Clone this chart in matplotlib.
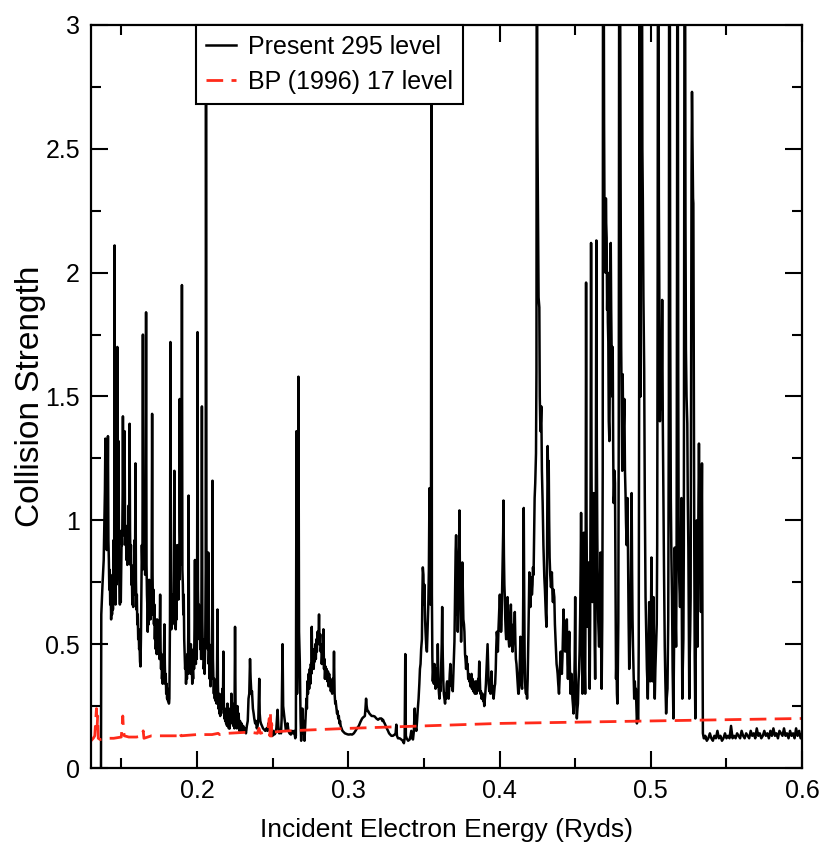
import matplotlib
matplotlib.use("Agg")
import matplotlib.pyplot as plt
from matplotlib.ticker import MultipleLocator

plt.rcParams['font.family'] = ['Liberation Sans', 'DejaVu Sans']

# --- Present 295 level (segment by segment) ---
energy_a = [0.1366, 0.1368, 0.1376, 0.1384, 0.1388, 0.1392, 0.1395, 0.1398, 0.1401, 0.1404,
            0.1408, 0.1412, 0.1415, 0.1418, 0.1421, 0.1424, 0.1427, 0.1430, 0.1433, 0.1436,
            0.1439, 0.1442, 0.1445, 0.1449, 0.1453, 0.1456, 0.1459, 0.1462, 0.1465, 0.1468,
            0.1471, 0.1474, 0.1477, 0.1480, 0.1482, 0.1485, 0.1488, 0.1491, 0.1494, 0.1497,
            0.1500, 0.1503, 0.1506, 0.1509, 0.1511, 0.1514, 0.1517, 0.1520, 0.1522, 0.1525,
            0.1528, 0.1531, 0.1534, 0.1537, 0.1540, 0.1543, 0.1546, 0.1549, 0.1552, 0.1555,
            0.1558, 0.1561, 0.1564, 0.1567, 0.1570, 0.1573, 0.1576, 0.1579, 0.1582, 0.1585,
            0.1588, 0.1591, 0.1594, 0.1597, 0.1600, 0.1603, 0.1606, 0.1609, 0.1612, 0.1615,
            0.1618, 0.1621, 0.1624, 0.1627, 0.1630, 0.1633, 0.1636, 0.1640, 0.1643, 0.1646,
            0.1649, 0.1652, 0.1655, 0.1658, 0.1661, 0.1664, 0.1667, 0.1670, 0.1673, 0.1675,
            0.1678, 0.1681, 0.1684, 0.1687, 0.1690, 0.1693, 0.1696, 0.1699, 0.1701, 0.1704,
            0.1707, 0.1710, 0.1713, 0.1716, 0.1719, 0.1722, 0.1725, 0.1728, 0.1731, 0.1734,
            0.1737, 0.1740, 0.1743, 0.1746, 0.1749, 0.1752, 0.1755, 0.1757, 0.1760, 0.1763,
            0.1766, 0.1769, 0.1772, 0.1774, 0.1777, 0.1780, 0.1783, 0.1785, 0.1788, 0.1791,
            0.1794, 0.1797, 0.1800, 0.1803, 0.1806, 0.1809, 0.1812, 0.1815, 0.1818, 0.1822,
            0.1825, 0.1828, 0.1831, 0.1834, 0.1838, 0.1841, 0.1844, 0.1847, 0.1851, 0.1854,
            0.1857, 0.1860, 0.1863, 0.1866, 0.1869, 0.1872, 0.1875, 0.1878, 0.1881, 0.1884,
            0.1886, 0.1889, 0.1892, 0.1895, 0.1898, 0.1901, 0.1904, 0.1907, 0.1910, 0.1913,
            0.1916, 0.1919, 0.1922, 0.1925, 0.1928, 0.1931, 0.1934, 0.1937, 0.1940, 0.1943,
            0.1945, 0.1948, 0.1951, 0.1954, 0.1957, 0.1960, 0.1963, 0.1966, 0.1969, 0.1972,
            0.1975, 0.1978, 0.1981, 0.1984, 0.1987, 0.1990, 0.1993, 0.1996, 0.1999, 0.2001,
            0.2004, 0.2007, 0.2010, 0.2013, 0.2016, 0.2019, 0.2022, 0.2025, 0.2028, 0.2030,
            0.2033, 0.2036, 0.2039, 0.2042, 0.2045, 0.2048, 0.2051, 0.2055, 0.2058, 0.2060,
            0.2063, 0.2066, 0.2069, 0.2072, 0.2075, 0.2078, 0.2081, 0.2084, 0.2087, 0.2090,
            0.2093, 0.2096, 0.2099, 0.2101, 0.2103, 0.2106, 0.2109, 0.2112, 0.2115, 0.2118,
            0.2121, 0.2124, 0.2127, 0.2130, 0.2133, 0.2136, 0.2139, 0.2142, 0.2145, 0.2148,
            0.2151, 0.2154, 0.2157, 0.2160, 0.2163, 0.2166, 0.2169, 0.2172, 0.2175, 0.2178,
            0.2181, 0.2184, 0.2187, 0.2190, 0.2193, 0.2196, 0.2199, 0.2202, 0.2205, 0.2208,
            0.2211, 0.2214, 0.2217]
strength_a = [0.00, 0.62, 0.74, 0.84, 0.98, 1.12, 1.33, 0.96, 1.06, 0.88,
              1.00, 1.34, 0.92, 0.84, 0.72, 0.80, 0.66, 0.74, 0.60, 0.68,
              0.62, 0.78, 0.64, 0.92, 0.72, 2.11, 0.76, 0.66, 0.88, 0.74,
              1.06, 1.70, 1.02, 0.86, 1.32, 0.82, 0.72, 0.66, 0.74, 0.67,
              0.80, 0.96, 0.90, 1.10, 1.42, 1.02, 0.94, 1.12, 1.36, 0.98,
              0.90, 0.95, 0.84, 0.92, 0.82, 0.98, 0.86, 1.06, 0.90, 1.39,
              0.96, 0.82, 0.90, 0.74, 0.80, 0.66, 0.72, 0.65, 0.82, 0.70,
              0.92, 0.80, 1.23, 0.76, 0.64, 0.70, 0.58, 0.62, 0.52, 0.56,
              0.48, 0.50, 0.43, 0.41, 0.52, 0.72, 0.90, 0.80, 1.75, 0.90,
              1.00, 0.82, 0.96, 0.78, 0.98, 1.84, 0.82, 0.70, 0.64, 0.55,
              0.66, 0.58, 0.76, 0.64, 0.74, 0.60, 0.68, 0.62, 0.80, 1.43,
              0.78, 0.62, 0.72, 0.58, 0.66, 0.52, 0.60, 0.48, 0.56, 0.46,
              0.60, 0.50, 0.58, 0.46, 0.54, 0.44, 0.58, 0.70, 0.48, 0.40,
              0.46, 0.36, 0.40, 0.34, 0.42, 0.36, 0.50, 0.58, 0.42, 0.34,
              0.38, 0.30, 0.34, 0.28, 0.32, 0.27, 0.30, 0.26, 0.28, 0.60,
              1.72, 0.70, 0.56, 0.64, 0.58, 0.70, 0.62, 0.80, 1.20, 0.72,
              0.62, 0.56, 0.66, 0.60, 0.90, 0.72, 0.80, 0.68, 0.90, 0.76,
              1.49, 0.96, 0.82, 0.98, 0.86, 1.95, 0.80, 0.74, 0.62, 0.70,
              0.52, 0.46, 0.40, 0.44, 0.34, 0.40, 0.36, 0.46, 0.38, 0.56,
              1.10, 0.52, 0.40, 0.46, 0.38, 0.50, 0.40, 0.44, 0.34, 0.40,
              0.36, 0.48, 0.40, 0.56, 0.84, 0.48, 0.42, 0.52, 0.44, 0.62,
              1.76, 0.72, 0.58, 0.66, 0.52, 0.62, 0.48, 0.56, 0.44, 0.66,
              1.46, 0.60, 0.46, 0.52, 0.40, 0.44, 0.38, 0.50, 0.80, 3.60,
              0.90, 0.56, 0.70, 0.48, 0.87, 0.42, 0.50, 0.36, 0.42, 0.33,
              0.44, 0.36, 0.50, 0.62, 1.16, 0.44, 0.36, 0.30, 0.36, 0.28,
              0.34, 0.27, 0.32, 0.26, 0.40, 0.64, 0.34, 0.24, 0.30, 0.22,
              0.28, 0.21, 0.26, 0.22, 0.30, 0.24, 0.32, 0.26, 0.47, 0.26,
              0.20, 0.24, 0.19, 0.23, 0.18, 0.22, 0.17, 0.26, 0.18, 0.21,
              0.16, 0.20, 0.16]

energy_b = [0.2220, 0.2224, 0.2228, 0.2232, 0.2236, 0.2240, 0.2244, 0.2248, 0.2252, 0.2256,
            0.2260, 0.2264, 0.2268, 0.2272, 0.2276, 0.2280, 0.2285, 0.2290, 0.2295, 0.2300,
            0.2306, 0.2312, 0.2318, 0.2324, 0.2330, 0.2336, 0.2341, 0.2346, 0.2351, 0.2355,
            0.2360, 0.2364, 0.2370, 0.2375, 0.2379, 0.2385, 0.2390, 0.2396, 0.2401, 0.2406,
            0.2409, 0.2412, 0.2415, 0.2419, 0.2423, 0.2430, 0.2437, 0.2445, 0.2452, 0.2460,
            0.2467, 0.2472, 0.2478, 0.2484, 0.2489, 0.2495, 0.2500, 0.2505, 0.2511, 0.2518,
            0.2525, 0.2533, 0.2538, 0.2544, 0.2550, 0.2556, 0.2560, 0.2566, 0.2570, 0.2577,
            0.2583, 0.2588, 0.2594, 0.2599, 0.2605, 0.2612, 0.2621, 0.2628, 0.2635, 0.2643,
            0.2650, 0.2654, 0.2658, 0.2662, 0.2666, 0.2671, 0.2675, 0.2680, 0.2685, 0.2689,
            0.2693, 0.2697, 0.2702, 0.2707, 0.2711, 0.2715, 0.2719, 0.2724, 0.2727, 0.2730,
            0.2734, 0.2738, 0.2742, 0.2746, 0.2750, 0.2753, 0.2756, 0.2759, 0.2762, 0.2765,
            0.2768, 0.2772, 0.2776, 0.2779, 0.2782, 0.2786, 0.2790, 0.2793, 0.2797, 0.2800,
            0.2804, 0.2807, 0.2811, 0.2815, 0.2818, 0.2822, 0.2825, 0.2829, 0.2833, 0.2836,
            0.2840, 0.2843, 0.2846, 0.2850, 0.2854, 0.2858, 0.2862, 0.2866, 0.2870, 0.2874,
            0.2877, 0.2881, 0.2885, 0.2890, 0.2894, 0.2898, 0.2902, 0.2906, 0.2910, 0.2914,
            0.2917, 0.2922, 0.2926, 0.2930, 0.2934, 0.2938, 0.2942, 0.2946, 0.2950, 0.2956,
            0.2962, 0.2970, 0.2978, 0.2986, 0.2995, 0.3004, 0.3015, 0.3026, 0.3037, 0.3048,
            0.3058, 0.3070, 0.3080, 0.3092, 0.3100, 0.3110, 0.3114, 0.3118, 0.3122, 0.3127,
            0.3132, 0.3140, 0.3148, 0.3155, 0.3165, 0.3175]
strength_b = [0.24, 0.18, 0.30, 0.20, 0.26, 0.17, 0.22, 0.16, 0.57, 0.20,
              0.24, 0.16, 0.25, 0.17, 0.22, 0.15, 0.19, 0.15, 0.18, 0.15,
              0.17, 0.15, 0.16, 0.14, 0.17, 0.19, 0.28, 0.30, 0.44, 0.36,
              0.30, 0.31, 0.24, 0.22, 0.20, 0.18, 0.19, 0.16, 0.17, 0.20,
              0.28, 0.36, 0.22, 0.19, 0.18, 0.17, 0.16, 0.155, 0.15, 0.16,
              0.15, 0.18, 0.17, 0.15, 0.16, 0.14, 0.13, 0.15, 0.135, 0.14,
              0.16, 0.235, 0.17, 0.14, 0.15, 0.14, 0.20, 0.50, 0.25, 0.21,
              0.18, 0.15, 0.16, 0.18, 0.15, 0.14, 0.135, 0.15, 0.14, 0.15,
              0.12, 0.13, 1.36, 0.30, 0.60, 1.58, 0.55, 0.43, 0.20, 0.11,
              0.18, 0.24, 0.14, 0.19, 0.11, 0.16, 0.21, 0.28, 0.24, 0.35,
              0.30, 0.38, 0.32, 0.40, 0.34, 0.42, 0.38, 0.57, 0.42, 0.40,
              0.46, 0.40, 0.48, 0.43, 0.50, 0.44, 0.52, 0.47, 0.55, 0.50,
              0.54, 0.62, 0.50, 0.54, 0.47, 0.50, 0.42, 0.46, 0.42, 0.56,
              0.40, 0.44, 0.36, 0.41, 0.36, 0.40, 0.35, 0.39, 0.33, 0.38,
              0.34, 0.36, 0.31, 0.35, 0.30, 0.36, 0.32, 0.47, 0.30, 0.26,
              0.27, 0.24, 0.22, 0.23, 0.20, 0.21, 0.18, 0.19, 0.17, 0.16,
              0.15, 0.145, 0.14, 0.138, 0.136, 0.135, 0.136, 0.135, 0.14, 0.15,
              0.16, 0.17, 0.185, 0.20, 0.205, 0.21, 0.24, 0.28, 0.25, 0.23,
              0.23, 0.22, 0.215, 0.21, 0.21, 0.208]

energy_c = [0.3186, 0.3197, 0.3208, 0.3219, 0.3226, 0.3230, 0.3236, 0.3241, 0.3248, 0.3255,
            0.3263, 0.3270, 0.3278, 0.3285, 0.3295, 0.3307, 0.3313, 0.3318, 0.3322, 0.3329,
            0.3340, 0.3351, 0.3360, 0.3368, 0.3373, 0.3377, 0.3381, 0.3386, 0.3396, 0.3406,
            0.3412, 0.3417, 0.3423, 0.3428, 0.3434, 0.3439, 0.3444, 0.3450, 0.3455, 0.3460,
            0.3465, 0.3470, 0.3474, 0.3478, 0.3482, 0.3487, 0.3490, 0.3493, 0.3497, 0.3500,
            0.3504, 0.3508, 0.3511, 0.3515, 0.3520, 0.3524, 0.3529, 0.3533, 0.3537, 0.3541,
            0.3544, 0.3547, 0.3550, 0.3553, 0.3556, 0.3559, 0.3563, 0.3566, 0.3570, 0.3574,
            0.3577, 0.3581, 0.3585, 0.3589, 0.3592, 0.3596, 0.3600, 0.3603, 0.3607, 0.3610,
            0.3614, 0.3618, 0.3621, 0.3625, 0.3629, 0.3632, 0.3636, 0.3640, 0.3644, 0.3648,
            0.3651, 0.3654, 0.3658, 0.3661, 0.3664, 0.3668, 0.3671, 0.3675, 0.3679, 0.3683,
            0.3687, 0.3691, 0.3695, 0.3698, 0.3702, 0.3705, 0.3708, 0.3710, 0.3713, 0.3716,
            0.3719, 0.3722, 0.3724, 0.3727, 0.3730, 0.3733, 0.3735, 0.3738, 0.3741, 0.3744,
            0.3746, 0.3750, 0.3754, 0.3758, 0.3761, 0.3765, 0.3768, 0.3772, 0.3775, 0.3779,
            0.3783, 0.3786, 0.3789, 0.3793, 0.3796, 0.3800, 0.3804, 0.3807, 0.3811, 0.3815,
            0.3818, 0.3822, 0.3826, 0.3829, 0.3833, 0.3837, 0.3840, 0.3844, 0.3848, 0.3851,
            0.3855, 0.3859, 0.3862, 0.3866, 0.3870, 0.3873, 0.3877, 0.3881, 0.3884, 0.3888,
            0.3892, 0.3895, 0.3899, 0.3903, 0.3906, 0.3910, 0.3914, 0.3917, 0.3921, 0.3925,
            0.3928, 0.3932, 0.3936, 0.3940, 0.3943, 0.3947, 0.3950, 0.3954, 0.3958, 0.3961,
            0.3964, 0.3968, 0.3971, 0.3975, 0.3978, 0.3982, 0.3986, 0.3989, 0.3993, 0.3997,
            0.4000, 0.4002, 0.4006, 0.4010, 0.4013, 0.4017, 0.4021, 0.4024, 0.4026, 0.4029,
            0.4032, 0.4035, 0.4038, 0.4041, 0.4044, 0.4047, 0.4050, 0.4053, 0.4057, 0.4060,
            0.4064, 0.4067, 0.4071, 0.4075, 0.4079, 0.4082, 0.4086, 0.4090, 0.4093, 0.4097,
            0.4101, 0.4105, 0.4108, 0.4112, 0.4116, 0.4120, 0.4124, 0.4127]
strength_c = [0.20, 0.195, 0.20, 0.20, 0.19, 0.195, 0.185, 0.18, 0.17, 0.16,
              0.15, 0.14, 0.135, 0.13, 0.13, 0.135, 0.14, 0.175, 0.13, 0.12,
              0.12, 0.115, 0.11, 0.10, 0.12, 0.46, 0.13, 0.12, 0.11, 0.115,
              0.13, 0.15, 0.12, 0.115, 0.15, 0.24, 0.17, 0.15, 0.19, 0.24,
              0.28, 0.34, 0.40, 0.42, 0.48, 0.52, 0.70, 0.81, 0.78, 0.66,
              0.74, 0.60, 0.55, 0.50, 0.47, 0.55, 0.65, 0.80, 1.13, 0.80,
              0.66, 0.90, 3.50, 0.70, 0.45, 0.35, 0.40, 0.34, 0.42, 0.38,
              0.32, 0.35, 0.40, 0.33, 0.50, 0.34, 0.30, 0.28, 0.33, 0.31,
              0.40, 0.50, 0.65, 0.45, 0.34, 0.30, 0.28, 0.26, 0.30, 0.28,
              0.34, 0.35, 0.30, 0.32, 0.28, 0.34, 0.38, 0.42, 0.36, 0.33,
              0.36, 0.31, 0.38, 0.44, 0.51, 0.66, 0.78, 0.88, 0.94, 0.80,
              0.62, 0.70, 0.55, 0.70, 0.85, 0.92, 1.04, 0.80, 0.70, 0.58,
              0.51, 0.62, 0.83, 0.70, 0.60, 0.58, 0.55, 0.46, 0.44, 0.40,
              0.45, 0.40, 0.42, 0.36, 0.38, 0.35, 0.37, 0.33, 0.34, 0.38,
              0.32, 0.36, 0.31, 0.35, 0.32, 0.30, 0.34, 0.35, 0.30, 0.33,
              0.31, 0.36, 0.34, 0.43, 0.36, 0.30, 0.31, 0.28, 0.30, 0.30,
              0.27, 0.29, 0.25, 0.28, 0.30, 0.34, 0.40, 0.44, 0.50, 0.40,
              0.34, 0.31, 0.34, 0.30, 0.35, 0.39, 0.33, 0.30, 0.33, 0.28,
              0.30, 0.33, 0.34, 0.40, 0.48, 0.55, 0.52, 0.47, 0.56, 0.62,
              0.66, 0.70, 0.62, 0.55, 0.58, 0.72, 0.85, 0.95, 1.08, 0.86,
              0.74, 0.69, 0.60, 0.55, 0.52, 0.58, 0.62, 0.69, 0.56, 0.52,
              0.49, 0.55, 0.60, 0.66, 0.54, 0.50, 0.47, 0.52, 0.58, 0.55,
              0.63, 0.50, 0.44, 0.42, 0.38, 0.34, 0.30, 0.30]

energy_d = [0.4131, 0.4134, 0.4138, 0.4141, 0.4145, 0.4149, 0.4152, 0.4155, 0.4158, 0.4160,
            0.4163, 0.4166, 0.4169, 0.4171, 0.4175, 0.4178, 0.4182, 0.4186, 0.4190, 0.4194,
            0.4197, 0.4201, 0.4204, 0.4208, 0.4211, 0.4214, 0.4218, 0.4221, 0.4225, 0.4228,
            0.4232, 0.4236, 0.4241, 0.4244, 0.4246, 0.4248, 0.4250, 0.4254, 0.4258, 0.4263,
            0.4266, 0.4270, 0.4273, 0.4276, 0.4280, 0.4285, 0.4290, 0.4296, 0.4300, 0.4303,
            0.4306, 0.4310, 0.4314, 0.4318, 0.4322, 0.4325, 0.4328, 0.4331, 0.4335, 0.4340,
            0.4343, 0.4346, 0.4350, 0.4353, 0.4357, 0.4362, 0.4366, 0.4370, 0.4373, 0.4377,
            0.4381, 0.4384, 0.4388, 0.4393, 0.4397, 0.4400, 0.4404, 0.4408, 0.4412, 0.4416,
            0.4420, 0.4423, 0.4427, 0.4430, 0.4434, 0.4437, 0.4441, 0.4445, 0.4449, 0.4452,
            0.4456, 0.4459, 0.4461, 0.4465, 0.4469, 0.4473, 0.4476, 0.4478, 0.4482, 0.4486,
            0.4489, 0.4493, 0.4497, 0.4500, 0.4503, 0.4507, 0.4511, 0.4515, 0.4518, 0.4522,
            0.4526, 0.4529, 0.4533, 0.4536, 0.4539, 0.4542, 0.4545, 0.4548, 0.4551, 0.4554,
            0.4557, 0.4560, 0.4563, 0.4566, 0.4569, 0.4572, 0.4575, 0.4578, 0.4581, 0.4584,
            0.4588, 0.4591, 0.4594, 0.4596, 0.4599, 0.4602, 0.4605, 0.4608, 0.4611, 0.4614,
            0.4617, 0.4620, 0.4623, 0.4626, 0.4629, 0.4632, 0.4635, 0.4637, 0.4640, 0.4643,
            0.4646, 0.4649, 0.4652, 0.4655, 0.4658, 0.4661, 0.4664, 0.4667, 0.4670, 0.4673,
            0.4675, 0.4679, 0.4682, 0.4684, 0.4688, 0.4691, 0.4694, 0.4697, 0.4700, 0.4703,
            0.4705, 0.4708, 0.4711, 0.4714, 0.4716, 0.4719, 0.4722, 0.4726, 0.4729, 0.4732,
            0.4735, 0.4738, 0.4741, 0.4745, 0.4748, 0.4751, 0.4754, 0.4757, 0.4760, 0.4763,
            0.4766, 0.4770, 0.4773, 0.4776, 0.4779, 0.4782, 0.4785]
strength_d = [0.36, 0.42, 0.53, 0.40, 0.34, 0.32, 0.40, 0.55, 0.80, 1.05,
              0.70, 0.45, 0.35, 0.32, 0.30, 0.33, 0.28, 0.36, 0.50, 0.66,
              0.79, 0.72, 0.65, 0.72, 0.77, 0.70, 0.74, 0.81, 0.78, 0.92,
              1.09, 1.15, 1.27, 1.60, 3.50, 3.50, 2.60, 2.25, 1.90, 1.86,
              1.50, 1.36, 1.40, 1.46, 1.20, 1.07, 0.90, 0.77, 0.72, 0.67,
              0.62, 0.57, 0.85, 1.30, 1.15, 1.24, 1.00, 0.85, 0.78, 0.73,
              0.76, 0.79, 0.70, 0.67, 0.72, 0.69, 0.58, 0.52, 0.47, 0.42,
              0.40, 0.38, 0.34, 0.30, 0.36, 0.42, 0.47, 0.42, 0.38, 0.45,
              0.55, 0.64, 0.55, 0.50, 0.47, 0.52, 0.58, 0.60, 0.42, 0.36,
              0.44, 0.50, 0.55, 0.40, 0.30, 0.33, 0.38, 0.34, 0.28, 0.25,
              0.22, 0.30, 0.45, 0.69, 0.40, 0.26, 0.20, 0.24, 0.26, 0.35,
              0.40, 0.47, 0.62, 0.80, 1.03, 0.70, 0.45, 0.30, 0.50, 0.70,
              0.95, 0.60, 0.40, 0.30, 0.80, 1.96, 1.00, 0.70, 0.57, 0.70,
              0.83, 0.60, 0.40, 0.32, 0.60, 1.20, 2.12, 1.20, 0.85, 0.67,
              0.85, 0.95, 1.11, 0.80, 0.50, 0.36, 0.70, 1.30, 2.13, 1.30,
              0.95, 0.75, 0.60, 0.55, 0.49, 0.60, 0.75, 0.87, 0.60, 0.40,
              0.32, 0.60, 1.20, 3.50, 3.50, 2.60, 2.20, 2.29, 2.00, 2.30,
              2.20, 2.14, 1.85, 2.00, 1.80, 1.72, 1.40, 1.32, 1.60, 1.90,
              2.12, 1.85, 1.68, 1.50, 1.70, 1.30, 1.07, 1.10, 1.20, 1.15,
              0.80, 0.36, 0.45, 0.30, 0.26, 0.40, 0.59]

energy_e = [0.4788, 0.4791, 0.4796, 0.4800, 0.4804, 0.4808, 0.4811, 0.4814, 0.4818, 0.4822,
            0.4825, 0.4829, 0.4833, 0.4836, 0.4840, 0.4843, 0.4846, 0.4850, 0.4853, 0.4857,
            0.4860, 0.4864, 0.4867, 0.4870, 0.4873, 0.4876, 0.4879, 0.4882, 0.4886, 0.4890,
            0.4894, 0.4898, 0.4901, 0.4905, 0.4908, 0.4912, 0.4915, 0.4917, 0.4920, 0.4923,
            0.4925, 0.4928, 0.4930, 0.4932, 0.4935, 0.4937, 0.4941, 0.4944, 0.4947, 0.4951,
            0.4956, 0.4960, 0.4965, 0.4969, 0.4974, 0.4977, 0.4980, 0.4983, 0.4986, 0.4989,
            0.4992, 0.4996, 0.5000, 0.5004, 0.5007, 0.5011, 0.5014, 0.5018, 0.5022, 0.5026,
            0.5030, 0.5035, 0.5039, 0.5042, 0.5045, 0.5047, 0.5050, 0.5053, 0.5057, 0.5060,
            0.5063, 0.5066, 0.5069, 0.5072, 0.5075, 0.5079, 0.5083, 0.5087, 0.5092, 0.5096,
            0.5101, 0.5105, 0.5110, 0.5115, 0.5119, 0.5121, 0.5125, 0.5128, 0.5132, 0.5136,
            0.5140, 0.5144, 0.5149, 0.5152, 0.5155, 0.5158, 0.5162, 0.5167, 0.5170, 0.5173,
            0.5175, 0.5178, 0.5181, 0.5184, 0.5188, 0.5193, 0.5197, 0.5200, 0.5202, 0.5205,
            0.5208, 0.5211, 0.5215, 0.5218, 0.5221, 0.5223, 0.5226, 0.5229, 0.5232, 0.5236,
            0.5241, 0.5244, 0.5248, 0.5251, 0.5254, 0.5257, 0.5260, 0.5263, 0.5266, 0.5269,
            0.5272, 0.5276, 0.5279, 0.5281, 0.5284, 0.5287, 0.5290, 0.5294, 0.5297, 0.5300,
            0.5303, 0.5306, 0.5309, 0.5312, 0.5315, 0.5318, 0.5321, 0.5325, 0.5328, 0.5331,
            0.5334, 0.5336, 0.5338, 0.5341, 0.5344, 0.5350, 0.5355]
strength_e = [1.40, 3.50, 3.50, 2.40, 1.70, 1.40, 1.20, 1.59, 1.30, 1.40,
              1.49, 1.20, 1.10, 0.99, 0.90, 1.00, 1.09, 0.80, 0.60, 0.40,
              0.45, 0.58, 0.70, 0.90, 1.11, 0.80, 0.60, 0.49, 0.38, 0.28,
              0.35, 0.30, 0.32, 0.24, 0.18, 0.22, 0.19, 0.20, 0.50, 1.60,
              3.50, 3.50, 2.20, 1.50, 2.50, 3.50, 3.50, 2.50, 2.30, 1.90,
              1.61, 1.10, 0.69, 0.55, 0.40, 0.35, 0.28, 0.40, 0.55, 0.67,
              0.50, 0.35, 0.55, 0.85, 0.55, 0.35, 0.50, 0.69, 0.40, 0.28,
              0.40, 0.50, 0.58, 0.90, 2.00, 3.50, 3.50, 2.30, 1.77, 1.40,
              1.55, 1.69, 1.45, 1.60, 1.89, 1.40, 1.09, 0.80, 0.49, 0.35,
              0.22, 0.28, 0.32, 0.60, 1.50, 3.50, 3.50, 1.80, 1.09, 0.85,
              0.69, 0.40, 0.20, 0.40, 0.60, 0.89, 0.65, 0.49, 0.80, 2.00,
              3.50, 3.50, 1.60, 0.89, 0.75, 0.65, 0.80, 0.95, 1.09, 0.60,
              0.28, 0.40, 0.52, 0.90, 2.50, 3.50, 3.50, 2.20, 1.69, 1.50,
              1.39, 1.10, 0.89, 0.55, 0.28, 0.45, 0.55, 0.69, 1.50, 2.40,
              2.73, 2.50, 2.30, 2.28, 1.50, 0.89, 0.45, 0.20, 0.50, 0.75,
              1.00, 0.70, 0.49, 0.80, 1.10, 1.31, 1.10, 0.97, 0.80, 0.63,
              0.90, 1.10, 1.23, 0.60, 0.14, 0.12, 0.12]

energy_f = [0.536, 0.537, 0.538, 0.539, 0.540, 0.541, 0.542, 0.543, 0.544, 0.545,
            0.546, 0.547, 0.548, 0.549, 0.550, 0.551, 0.552, 0.553, 0.554, 0.555,
            0.556, 0.557, 0.558, 0.559, 0.560, 0.561, 0.562, 0.563, 0.564, 0.565,
            0.566, 0.567, 0.568, 0.569, 0.570, 0.571, 0.572, 0.573, 0.574, 0.575,
            0.576, 0.577, 0.578, 0.579, 0.580, 0.581, 0.582, 0.583, 0.584, 0.585,
            0.586, 0.587, 0.588, 0.589, 0.590, 0.591, 0.592, 0.593, 0.594, 0.595,
            0.596, 0.597, 0.598, 0.599, 0.600]
strength_f = [0.13, 0.11, 0.12, 0.14, 0.12, 0.11, 0.13, 0.12, 0.15, 0.12,
              0.13, 0.11, 0.12, 0.14, 0.12, 0.13, 0.12, 0.17, 0.12, 0.13,
              0.12, 0.14, 0.13, 0.12, 0.15, 0.13, 0.12, 0.14, 0.13, 0.12,
              0.15, 0.13, 0.14, 0.12, 0.16, 0.13, 0.14, 0.12, 0.13, 0.15,
              0.13, 0.14, 0.12, 0.15, 0.13, 0.16, 0.13, 0.14, 0.12, 0.15,
              0.14, 0.13, 0.16, 0.13, 0.14, 0.12, 0.15, 0.13, 0.14, 0.12,
              0.16, 0.13, 0.15, 0.12, 0.14]

# --- BP (1996) 17 level ---
bp_energy = [0.1300, 0.1315, 0.1325, 0.1332, 0.1336, 0.1340, 0.1344, 0.1348, 0.1360, 0.1400,
             0.1450, 0.1500, 0.1505, 0.1510, 0.1515, 0.1520, 0.1550, 0.1600, 0.1640, 0.1645,
             0.1650, 0.1700, 0.1800, 0.1880, 0.1885, 0.1895, 0.2000, 0.2100, 0.2140, 0.2150,
             0.2200, 0.2350, 0.2400, 0.2410, 0.2420, 0.2470, 0.2478, 0.2482, 0.2486, 0.2490,
             0.2494, 0.2500, 0.2600, 0.2800, 0.3000, 0.3500, 0.4000, 0.4500, 0.5000, 0.5500,
             0.6000]
bp_strength = [0.11, 0.12, 0.13, 0.20, 0.24, 0.16, 0.21, 0.12, 0.115, 0.12,
               0.12, 0.125, 0.16, 0.21, 0.15, 0.13, 0.125, 0.125, 0.13, 0.15,
               0.12, 0.13, 0.13, 0.13, 0.145, 0.13, 0.135, 0.135, 0.14, 0.135,
               0.14, 0.145, 0.14, 0.16, 0.14, 0.15, 0.20, 0.13, 0.22, 0.12,
               0.18, 0.145, 0.15, 0.155, 0.16, 0.17, 0.18, 0.185, 0.19, 0.195,
               0.20]

x_ticks = [0.2, 0.3, 0.4, 0.5, 0.6]
x_labels = ['0.2', '0.3', '0.4', '0.5', '0.6']
y_ticks = [0, 0.5, 1, 1.5, 2, 2.5, 3]
y_labels = ['0', '0.5', '1', '1.5', '2', '2.5', '3']

energy = energy_a + energy_b + energy_c + energy_d + energy_e + energy_f
strength = strength_a + strength_b + strength_c + strength_d + strength_e + strength_f

fig = plt.figure(figsize=(8.25, 8.56), dpi=100)
ax = fig.add_axes([0.1103, 0.1028, 0.862, 0.868])

ax.plot(energy, strength, color='black', lw=1.8, label='Present 295 level')
ax.plot(bp_energy, bp_strength, color='#ff2a1a', lw=2, dashes=(6, 3), label='BP (1996) 17 level')

ax.set_xlim(0.13, 0.6)
ax.set_ylim(0, 3)
ax.set_xticks(x_ticks)
ax.set_xticklabels(x_labels)
ax.set_yticks(y_ticks)
ax.set_yticklabels(y_labels)
ax.xaxis.set_minor_locator(MultipleLocator(0.05))
ax.yaxis.set_minor_locator(MultipleLocator(0.25))
ax.tick_params(which='both', direction='in', top=True, right=True, width=1.5, labelsize=18)
ax.tick_params(which='major', length=12, pad=8)
ax.tick_params(which='minor', length=7)
for s in ax.spines.values():
    s.set_linewidth(1.6)

ax.set_xlabel('Incident Electron Energy (Ryds)', fontsize=19, labelpad=11)
ax.set_ylabel('Collision Strength', fontsize=24)
ax.yaxis.set_label_coords(-0.063, 0.5)

leg = ax.legend(loc='upper left', bbox_to_anchor=(0.147, 1.0), borderaxespad=0,
                fontsize=18, frameon=True, fancybox=False, framealpha=1,
                handlelength=1.2, handletextpad=0.5, labelspacing=0.45, borderpad=0.4)
leg.get_frame().set_edgecolor('black')
leg.get_frame().set_linewidth(1.5)

fig.savefig('out.png', dpi=100)
